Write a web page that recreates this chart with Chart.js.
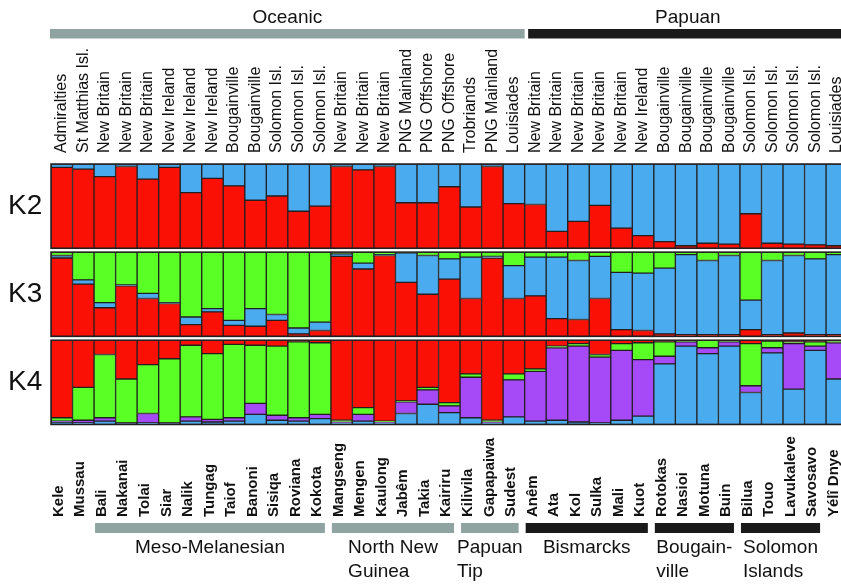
<!DOCTYPE html>
<html>
<head>
<meta charset="utf-8">
<script src="https://cdn.jsdelivr.net/npm/chart.js@4.4.0/dist/chart.umd.min.js"></script>
<style>
  html, body { margin: 0; padding: 0; background: #fff; overflow: hidden; }
  canvas { display: block; }
</style>
</head>
<body>
<canvas id="grafico" width="860" height="585"></canvas>
<script>
const populacoes = ['Kele', 'Mussau', 'Bali', 'Nakanai', 'Tolai', 'Siar', 'Nalik', 'Tungag', 'Taiof', 'Banoni',
  'Sisiqa', 'Roviana', 'Kokota', 'Mangseng', 'Mengen', 'Kaulong', 'Jabêm', 'Takia', 'Kairiru', 'Kilivila',
  'Gapapaiwa', 'Sudest', 'Anêm', 'Ata', 'Kol', 'Sulka', 'Mali', 'Kuot', 'Rotokas', 'Nasioi',
  'Motuna', 'Buin', 'Bilua', 'Touo', 'Lavukaleve', 'Savosavo', 'Yélî Dnye'];

const regioes = ['Admiralties', 'St Matthias Isl.', 'New Britain', 'New Britain', 'New Britain', 'New Ireland',
  'New Ireland', 'New Ireland', 'Bougainville', 'Bougainville', 'Solomon Isl.', 'Solomon Isl.', 'Solomon Isl.',
  'New Britain', 'New Britain', 'New Britain', 'PNG Mainland', 'PNG Offshore', 'PNG Offshore', 'Trobriands',
  'PNG Mainland', 'Louisiades', 'New Britain', 'New Britain', 'New Britain', 'New Britain', 'New Britain',
  'New Ireland', 'Bougainville', 'Bougainville', 'Bougainville', 'Bougainville', 'Solomon Isl.', 'Solomon Isl.',
  'Solomon Isl.', 'Solomon Isl.', 'Louisiades'];

// familias no topo: [nome, primeira, ultima]
const familias = [['Oceanic', 0, 21], ['Papuan', 22, 36]];
// grupos embaixo: [linha 1, linha 2, primeira, ultima, papuan?]
const grupos = [
  ['Meso-Melanesian', '', 2, 12, false],
  ['North New', 'Guinea', 13, 18, false],
  ['Papuan', 'Tip', 19, 21, false],
  ['Bismarcks', '', 22, 27, true],
  ['Bougain-', 'ville', 28, 31, true],
  ['Solomon', 'Islands', 32, 35, true]
];

// K2
const k2Red = [0.96, 0.94, 0.85, 0.97, 0.82, 0.96, 0.66, 0.83, 0.74, 0.57, 0.62, 0.44, 0.50, 0.97, 0.93, 0.97,
  0.54, 0.54, 0.73, 0.49, 0.97, 0.53, 0.52, 0.20, 0.32, 0.51, 0.24, 0.15, 0.08, 0.03, 0.06, 0.05, 0.41, 0.06,
  0.05, 0.04, 0.03];
const k2Blue = [0.04, 0.06, 0.15, 0.03, 0.18, 0.04, 0.34, 0.17, 0.26, 0.43, 0.38, 0.56, 0.50, 0.03, 0.07, 0.03,
  0.46, 0.46, 0.27, 0.51, 0.03, 0.47, 0.48, 0.80, 0.68, 0.49, 0.76, 0.85, 0.92, 0.97, 0.94, 0.95, 0.59, 0.94,
  0.95, 0.96, 0.97];

// K3
const k3Red = [0.93, 0.62, 0.34, 0.60, 0.45, 0.39, 0.14, 0.29, 0.13, 0.12, 0.19, 0.03, 0.07, 0.95, 0.80, 0.96,
  0.64, 0.50, 0.68, 0.45, 0.93, 0.45, 0.48, 0.21, 0.20, 0.45, 0.08, 0.07, 0.03, 0.02, 0.02, 0.02, 0.08, 0.02,
  0.04, 0.02, 0.02];
const k3Blue = [0.03, 0.05, 0.06, 0.01, 0.06, 0.01, 0.09, 0.04, 0.06, 0.21, 0.07, 0.07, 0.10, 0.03, 0.07, 0.01,
  0.35, 0.46, 0.24, 0.49, 0.02, 0.39, 0.46, 0.73, 0.70, 0.50, 0.68, 0.68, 0.78, 0.95, 0.88, 0.94, 0.35, 0.88,
  0.92, 0.90, 0.95];
const k3Green = [0.04, 0.33, 0.60, 0.39, 0.49, 0.60, 0.77, 0.67, 0.81, 0.67, 0.74, 0.90, 0.83, 0.02, 0.13, 0.03,
  0.01, 0.04, 0.08, 0.06, 0.05, 0.16, 0.06, 0.06, 0.10, 0.05, 0.24, 0.25, 0.19, 0.03, 0.10, 0.04, 0.57, 0.10,
  0.04, 0.08, 0.03];

// K4
const k4Blue = [0.03, 0.02, 0.04, 0.01, 0.02, 0.01, 0.04, 0.03, 0.04, 0.12, 0.05, 0.04, 0.07, 0.02, 0.04, 0.02,
  0.13, 0.24, 0.14, 0.08, 0.02, 0.09, 0.04, 0.05, 0.03, 0.02, 0.05, 0.10, 0.72, 0.93, 0.84, 0.93, 0.38, 0.85,
  0.42, 0.88, 0.54];
const k4Purple = [0.01, 0.03, 0.04, 0.01, 0.11, 0.01, 0.05, 0.03, 0.04, 0.13, 0.06, 0.04, 0.05, 0.01, 0.08, 0.01,
  0.14, 0.17, 0.08, 0.48, 0.01, 0.44, 0.59, 0.86, 0.90, 0.78, 0.83, 0.67, 0.09, 0.05, 0.07, 0.05, 0.08, 0.06,
  0.54, 0.05, 0.43];
const k4Green = [0.04, 0.39, 0.75, 0.52, 0.58, 0.76, 0.85, 0.78, 0.87, 0.69, 0.82, 0.90, 0.85, 0.02, 0.08, 0.01,
  0.01, 0.03, 0.04, 0.04, 0.02, 0.07, 0.03, 0.02, 0.03, 0.03, 0.08, 0.20, 0.17, 0.01, 0.09, 0.01, 0.50, 0.08,
  0.02, 0.05, 0.02];
const k4Red = [0.92, 0.56, 0.17, 0.46, 0.29, 0.22, 0.06, 0.16, 0.05, 0.06, 0.07, 0.02, 0.03, 0.95, 0.80, 0.96,
  0.72, 0.56, 0.74, 0.40, 0.95, 0.40, 0.34, 0.07, 0.04, 0.17, 0.04, 0.03, 0.02, 0.01, 0.005, 0.01, 0.04, 0.01,
  0.02, 0.02, 0.01];

const vermelho = '#fa1004';
const azul = '#4aabee';
const verde = '#5aff25';
const roxo = '#a64af8';
const borda = '#231f20';
const cinza = '#8fa4a1';
const fonte = '"Liberation Sans", Arial, Helvetica, sans-serif';

function serie(dados, cor, eixo) {
  return {
    data: dados,
    backgroundColor: cor,
    borderColor: borda,
    borderWidth: 1,
    borderSkipped: false,
    yAxisID: eixo,
    grouped: false,
    barPercentage: 1,
    categoryPercentage: 1
  };
}

function eixoK(peso, ordem, minimo) {
  return { type: 'linear', axis: 'y', position: 'left', display: false, stacked: true,
    min: minimo, max: 1, stack: 'paineis', stackWeight: peso, weight: ordem };
}

// textos, barras de grupo e molduras
const rotulos = {
  id: 'rotulos',
  afterDraw(chart) {
    const { ctx, scales } = chart;
    const x = scales.x;
    const meia = (x.getPixelForValue(1) - x.getPixelForValue(0)) / 2;
    ctx.save();

    // molduras dos paineis
    ctx.strokeStyle = borda;
    ctx.lineWidth = 1.5;
    ['k2', 'k3', 'k4'].forEach((id) => {
      const s = scales[id];
      const topo = s.getPixelForValue(1);
      ctx.strokeRect(x.left, topo, x.right - x.left, s.getPixelForValue(0) - topo);
    });

    // K2, K3, K4
    ctx.fillStyle = '#111';
    ctx.font = '28px ' + fonte;
    ctx.textAlign = 'left';
    ctx.textBaseline = 'middle';
    ['k2', 'k3', 'k4'].forEach((id) => {
      ctx.fillText(id.toUpperCase(), 8, scales[id].getPixelForValue(0.5));
    });

    // familias no topo
    familias.forEach(([nome, a, b], n) => {
      const esq = x.getPixelForValue(a) - meia + (n === 0 ? -1 : 3.5);
      const dir = x.getPixelForValue(b) + meia;
      ctx.fillStyle = n === 0 ? cinza : '#1a1a1a';
      ctx.fillRect(esq, 29, dir - esq, 9.5);
      ctx.fillStyle = '#111';
      ctx.font = '19px ' + fonte;
      ctx.textAlign = 'center';
      ctx.fillText(nome, (esq + dir) / 2, 17.5);
    });

    // regioes (topo, giradas)
    ctx.font = '16px ' + fonte;
    ctx.textAlign = 'left';
    regioes.forEach((r, i) => {
      ctx.save();
      ctx.translate(x.getPixelForValue(i), 153);
      ctx.rotate(-Math.PI / 2);
      ctx.fillText(r, 0, 0);
      ctx.restore();
    });

    // populacoes (embaixo, negrito)
    ctx.font = 'bold 15px ' + fonte;
    populacoes.forEach((p, i) => {
      ctx.save();
      ctx.translate(x.getPixelForValue(i) - 3, 517);
      ctx.rotate(-Math.PI / 2);
      ctx.fillText(p, 0, 0);
      ctx.restore();
    });

    // grupos embaixo
    grupos.forEach(([l1, l2, a, b, pap]) => {
      const esq = x.getPixelForValue(a) - meia + 1;
      const dir = x.getPixelForValue(b) + meia - 6;
      ctx.fillStyle = pap ? '#1a1a1a' : cinza;
      ctx.fillRect(esq, 523, dir - esq, 10);
      ctx.fillStyle = '#111';
      ctx.font = '19px ' + fonte;
      const w = ctx.measureText(l1).width;
      const ini = (esq + dir) / 2 - w / 2;
      ctx.fillText(l1, ini, 548);
      if (l2) ctx.fillText(l2, ini, 572);
    });

    ctx.restore();
  }
};

new Chart(document.getElementById('grafico'), {
  type: 'bar',
  data: {
    labels: populacoes,
    datasets: [
      serie(k2Red, vermelho, 'k2'),
      serie(k2Blue, azul, 'k2'),
      serie(k3Red, vermelho, 'k3'),
      serie(k3Blue, azul, 'k3'),
      serie(k3Green, verde, 'k3'),
      serie(k4Blue, azul, 'k4'),
      serie(k4Purple, roxo, 'k4'),
      serie(k4Green, verde, 'k4'),
      serie(k4Red, vermelho, 'k4')
    ]
  },
  options: {
    responsive: false,
    animation: false,
    devicePixelRatio: 1,
    layout: { padding: { left: 51, right: 12.4, top: 164, bottom: 160.5 } },
    plugins: { legend: { display: false }, tooltip: { enabled: false } },
    scales: {
      x: { type: 'category', display: false, offset: true, stacked: true },
      k2: eixoK(1.045, 3, -0.045),
      k3: eixoK(1.045, 2, -0.045),
      k4: eixoK(1, 1, 0)
    }
  },
  plugins: [rotulos]
});
</script>
</body>
</html>
